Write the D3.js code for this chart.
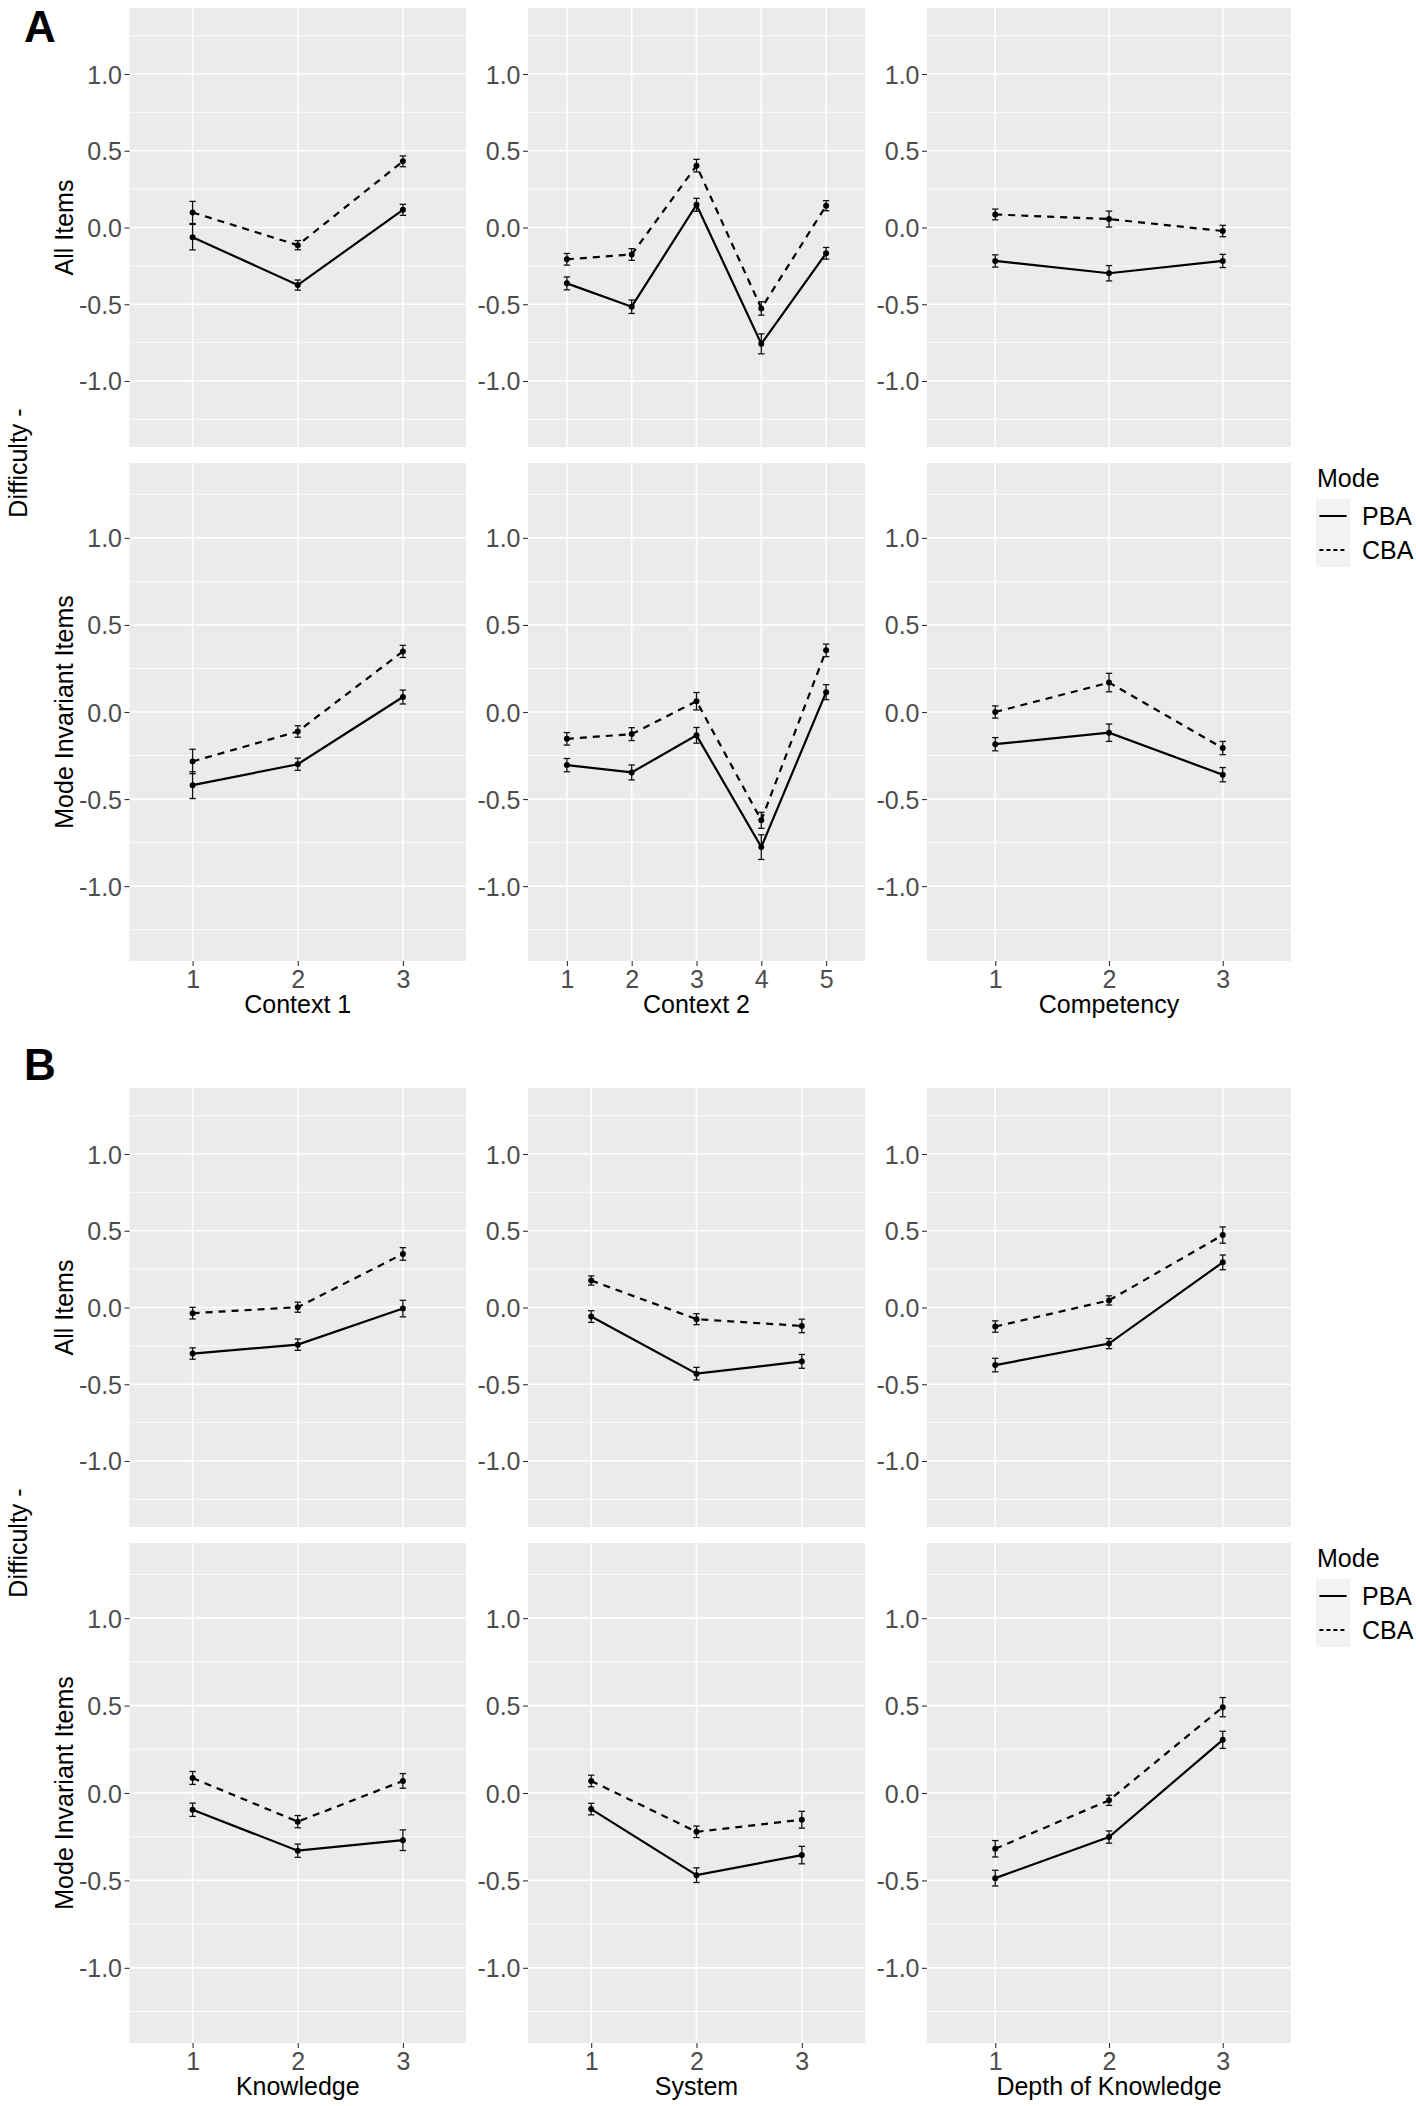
<!DOCTYPE html>
<html><head><meta charset="utf-8">
<script src="https://cdn.jsdelivr.net/npm/d3@7"></script>
<style>
body{margin:0;background:#fff}
svg{display:block}
text{font-family:"Liberation Sans",Arial,Helvetica,sans-serif}
</style>
</head><body>
<svg id="chart" width="1416" height="2106"></svg>
<script>
// ================= DATA =================
const yTicks = [-1.0, -0.5, 0.0, 0.5, 1.0];
const yMinor = [-1.25, -0.75, -0.25, 0.25, 0.75, 1.25];
const yLimits = [-1.43, 1.43];
const modes = ["PBA", "CBA"];
const rowLabels = ["All Items", "Mode Invariant Items"];
const figureLabels = ["A", "B"];
const yTitle = "Difficulty -";
const legendTitle = "Mode";

const context1Levels = ["1", "2", "3"];
const context2Levels = ["1", "2", "3", "4", "5"];
const competencyLevels = ["1", "2", "3"];
const knowledgeLevels = ["1", "2", "3"];
const systemLevels = ["1", "2", "3"];
const dokLevels = ["1", "2", "3"];
const xTitlesA = ["Context 1", "Context 2", "Competency"];
const xTitlesB = ["Knowledge", "System", "Depth of Knowledge"];

// ---- Figure A, All Items ----
const ctx1AllPBA = [-0.063, -0.375, 0.115];
const ctx1AllPBAErr = [0.083, 0.033, 0.036];
const ctx1AllCBA = [0.098, -0.115, 0.431];
const ctx1AllCBAErr = [0.072, 0.030, 0.035];

const ctx2AllPBA = [-0.364, -0.516, 0.148, -0.758, -0.168];
const ctx2AllPBAErr = [0.042, 0.044, 0.042, 0.065, 0.038];
const ctx2AllCBA = [-0.207, -0.176, 0.403, -0.527, 0.142];
const ctx2AllCBAErr = [0.038, 0.038, 0.041, 0.044, 0.033];

const compAllPBA = [-0.218, -0.298, -0.218];
const compAllPBAErr = [0.040, 0.050, 0.043];
const compAllCBA = [0.085, 0.055, -0.023];
const compAllCBAErr = [0.035, 0.052, 0.037];

// ---- Figure A, Mode Invariant Items ----
const ctx1MiPBA = [-0.420, -0.300, 0.086];
const ctx1MiPBAErr = [0.077, 0.035, 0.040];
const ctx1MiCBA = [-0.284, -0.112, 0.348];
const ctx1MiCBAErr = [0.070, 0.033, 0.035];

const ctx2MiPBA = [-0.305, -0.347, -0.134, -0.776, 0.114];
const ctx2MiPBAErr = [0.038, 0.043, 0.045, 0.071, 0.043];
const ctx2MiCBA = [-0.154, -0.127, 0.062, -0.622, 0.354];
const ctx2MiCBAErr = [0.036, 0.037, 0.050, 0.046, 0.036];

const compMiPBA = [-0.185, -0.119, -0.360];
const compMiPBAErr = [0.038, 0.050, 0.041];
const compMiCBA = [0.000, 0.169, -0.207];
const compMiCBAErr = [0.035, 0.053, 0.038];

// ---- Figure B, All Items ----
const knowAllPBA = [-0.300, -0.242, -0.007];
const knowAllPBAErr = [0.037, 0.037, 0.054];
const knowAllCBA = [-0.037, 0.002, 0.349];
const knowAllCBAErr = [0.038, 0.033, 0.041];

const sysAllPBA = [-0.059, -0.431, -0.351];
const sysAllPBAErr = [0.038, 0.041, 0.045];
const sysAllCBA = [0.176, -0.076, -0.120];
const sysAllCBAErr = [0.030, 0.036, 0.044];

const dokAllPBA = [-0.375, -0.235, 0.294];
const dokAllPBAErr = [0.044, 0.033, 0.048];
const dokAllCBA = [-0.124, 0.046, 0.472];
const dokAllCBAErr = [0.037, 0.030, 0.053];

// ---- Figure B, Mode Invariant Items ----
const knowMiPBA = [-0.096, -0.330, -0.270];
const knowMiPBAErr = [0.038, 0.038, 0.059];
const knowMiCBA = [0.086, -0.164, 0.069];
const knowMiCBAErr = [0.037, 0.035, 0.042];

const sysMiPBA = [-0.092, -0.470, -0.355];
const sysMiPBAErr = [0.033, 0.042, 0.050];
const sysMiCBA = [0.069, -0.222, -0.153];
const sysMiCBAErr = [0.033, 0.033, 0.048];

const dokMiPBA = [-0.487, -0.252, 0.304];
const dokMiPBAErr = [0.045, 0.035, 0.049];
const dokMiCBA = [-0.319, -0.042, 0.491];
const dokMiCBAErr = [0.047, 0.029, 0.055];

// ================= LAYOUT / STYLE =================
const colX = [[129.5, 466], [528, 865], [927, 1291]];
const figRows = [
  [[8, 447], [463, 961]],
  [[1088, 1527], [1543, 2043]]
];
const FS = 25;
const panelBg = "#EBEBEB";
const tickTextColor = "#4D4D4D";

const panels = [
  {fig:0,row:0,col:0,levels:context1Levels,pba:ctx1AllPBA,pbaE:ctx1AllPBAErr,cba:ctx1AllCBA,cbaE:ctx1AllCBAErr},
  {fig:0,row:0,col:1,levels:context2Levels,pba:ctx2AllPBA,pbaE:ctx2AllPBAErr,cba:ctx2AllCBA,cbaE:ctx2AllCBAErr},
  {fig:0,row:0,col:2,levels:competencyLevels,pba:compAllPBA,pbaE:compAllPBAErr,cba:compAllCBA,cbaE:compAllCBAErr},
  {fig:0,row:1,col:0,levels:context1Levels,pba:ctx1MiPBA,pbaE:ctx1MiPBAErr,cba:ctx1MiCBA,cbaE:ctx1MiCBAErr},
  {fig:0,row:1,col:1,levels:context2Levels,pba:ctx2MiPBA,pbaE:ctx2MiPBAErr,cba:ctx2MiCBA,cbaE:ctx2MiCBAErr},
  {fig:0,row:1,col:2,levels:competencyLevels,pba:compMiPBA,pbaE:compMiPBAErr,cba:compMiCBA,cbaE:compMiCBAErr},
  {fig:1,row:0,col:0,levels:knowledgeLevels,pba:knowAllPBA,pbaE:knowAllPBAErr,cba:knowAllCBA,cbaE:knowAllCBAErr},
  {fig:1,row:0,col:1,levels:systemLevels,pba:sysAllPBA,pbaE:sysAllPBAErr,cba:sysAllCBA,cbaE:sysAllCBAErr},
  {fig:1,row:0,col:2,levels:dokLevels,pba:dokAllPBA,pbaE:dokAllPBAErr,cba:dokAllCBA,cbaE:dokAllCBAErr},
  {fig:1,row:1,col:0,levels:knowledgeLevels,pba:knowMiPBA,pbaE:knowMiPBAErr,cba:knowMiCBA,cbaE:knowMiCBAErr},
  {fig:1,row:1,col:1,levels:systemLevels,pba:sysMiPBA,pbaE:sysMiPBAErr,cba:sysMiCBA,cbaE:sysMiCBAErr},
  {fig:1,row:1,col:2,levels:dokLevels,pba:dokMiPBA,pbaE:dokMiPBAErr,cba:dokMiCBA,cbaE:dokMiCBAErr}
];

const svg = d3.select("#chart");
const dashes = {PBA: null, CBA: "7,6"};

panels.forEach(p => {
  const [x0, x1] = colX[p.col];
  const [y0, y1] = figRows[p.fig][p.row];
  const x = d3.scalePoint().domain(p.levels).range([x0, x1]).padding(0.6);
  const y = d3.scaleLinear().domain(yLimits).range([y1, y0]);
  const g = svg.append("g");

  g.append("rect").attr("x", x0).attr("y", y0)
    .attr("width", x1 - x0).attr("height", y1 - y0).attr("fill", panelBg);

  g.selectAll(".minor").data(yMinor).join("line")
    .attr("x1", x0).attr("x2", x1).attr("y1", d => y(d)).attr("y2", d => y(d))
    .attr("stroke", "#fff").attr("stroke-width", 0.8);
  g.selectAll(".majorH").data(yTicks).join("line")
    .attr("x1", x0).attr("x2", x1).attr("y1", d => y(d)).attr("y2", d => y(d))
    .attr("stroke", "#fff").attr("stroke-width", 1.6);
  g.selectAll(".majorV").data(p.levels).join("line")
    .attr("x1", d => x(d)).attr("x2", d => x(d)).attr("y1", y0).attr("y2", y1)
    .attr("stroke", "#fff").attr("stroke-width", 1.6);

  // y axis
  const ya = g.append("g").attr("transform", `translate(${x0},0)`)
    .call(d3.axisLeft(y).tickValues(yTicks).tickSize(5).tickPadding(2.5)
      .tickFormat(d => d.toFixed(1)));
  ya.select(".domain").remove();
  ya.selectAll("line").attr("stroke", "#333").attr("stroke-width", 1.1);
  ya.selectAll("text").attr("font-size", FS).attr("fill", tickTextColor)
    .attr("dy", "0.36em").style("font-family", '"Liberation Sans",Arial,sans-serif');

  // x axis (bottom row only)
  if (p.row === 1) {
    const xa = g.append("g").attr("transform", `translate(0,${y1})`)
      .call(d3.axisBottom(x).tickSize(5));
    xa.select(".domain").remove();
    xa.selectAll("line").attr("stroke", "#333").attr("stroke-width", 1.1);
    xa.selectAll("text").attr("font-size", FS).attr("fill", tickTextColor)
      .attr("y", 27).attr("dy", 0).style("font-family", '"Liberation Sans",Arial,sans-serif');
    const titles = p.fig === 0 ? xTitlesA : xTitlesB;
    g.append("text").attr("x", (x0 + x1) / 2).attr("y", y1 + 52)
      .attr("text-anchor", "middle").attr("font-size", FS).attr("fill", "#000")
      .text(titles[p.col]);
  }

  // strip labels on the left of first column
  if (p.col === 0) {
    g.append("text")
      .attr("transform", `translate(73,${(y0 + y1) / 2}) rotate(-90)`)
      .attr("text-anchor", "middle").attr("font-size", FS).attr("fill", "#000")
      .text(rowLabels[p.row]);
  }

  // series
  const series = [
    {mode: "PBA", v: p.pba, e: p.pbaE},
    {mode: "CBA", v: p.cba, e: p.cbaE}
  ];
  const line = d3.line().x((d, i) => x(p.levels[i])).y(d => y(d));
  series.forEach(s => {
    g.append("path").datum(s.v).attr("d", line)
      .attr("fill", "none").attr("stroke", "#000").attr("stroke-width", 2.2)
      .attr("stroke-dasharray", dashes[s.mode]);
  });
  series.forEach(s => {
    const eg = g.append("g").attr("stroke", "#111").attr("stroke-width", 1.3);
    s.v.forEach((v, i) => {
      const cx = x(p.levels[i]);
      const lo = y(v - s.e[i]), hi = y(v + s.e[i]);
      eg.append("line").attr("x1", cx).attr("x2", cx).attr("y1", lo).attr("y2", hi);
      eg.append("line").attr("x1", cx - 3.2).attr("x2", cx + 3.2).attr("y1", lo).attr("y2", lo);
      eg.append("line").attr("x1", cx - 3.2).attr("x2", cx + 3.2).attr("y1", hi).attr("y2", hi);
    });
    g.selectAll(null).data(s.v).join("circle")
      .attr("cx", (d, i) => x(p.levels[i])).attr("cy", d => y(d))
      .attr("r", 3).attr("fill", "#000");
  });
});

// figure labels, y titles and legends
[0, 1].forEach(f => {
  const off = f === 0 ? 0 : 1080;
  svg.append("text").attr("x", 24).attr("y", f === 0 ? 42 : 1080)
    .attr("font-size", 44).attr("font-weight", "bold").attr("fill", "#000")
    .text(figureLabels[f]);
  svg.append("text")
    .attr("transform", `translate(27,${(figRows[f][0][1] + figRows[f][1][0]) / 2 + 8}) rotate(-90)`)
    .attr("text-anchor", "middle").attr("font-size", FS).attr("fill", "#000")
    .text(yTitle);

  const lg = svg.append("g");
  const ly = 478 + off;
  lg.append("text").attr("x", 1317).attr("y", ly + 9).attr("font-size", FS)
    .attr("fill", "#000").text(legendTitle);
  const keyTop = 499 + off, keyH = 34, keyX = 1316, keyW = 34;
  modes.forEach((m, i) => {
    const ky = keyTop + i * keyH;
    lg.append("rect").attr("x", keyX).attr("y", ky).attr("width", keyW)
      .attr("height", keyH).attr("fill", "#F2F2F2");
    lg.append("line").attr("x1", keyX + 3.4).attr("x2", keyX + keyW - 3.4)
      .attr("y1", ky + keyH / 2).attr("y2", ky + keyH / 2)
      .attr("stroke", "#000").attr("stroke-width", 2)
      .attr("stroke-dasharray", m === "CBA" ? "4,3" : null);
    lg.append("text").attr("x", 1362).attr("y", ky + keyH / 2 + 9)
      .attr("font-size", FS).attr("fill", "#000").text(m);
  });
});
</script>
</body></html>
